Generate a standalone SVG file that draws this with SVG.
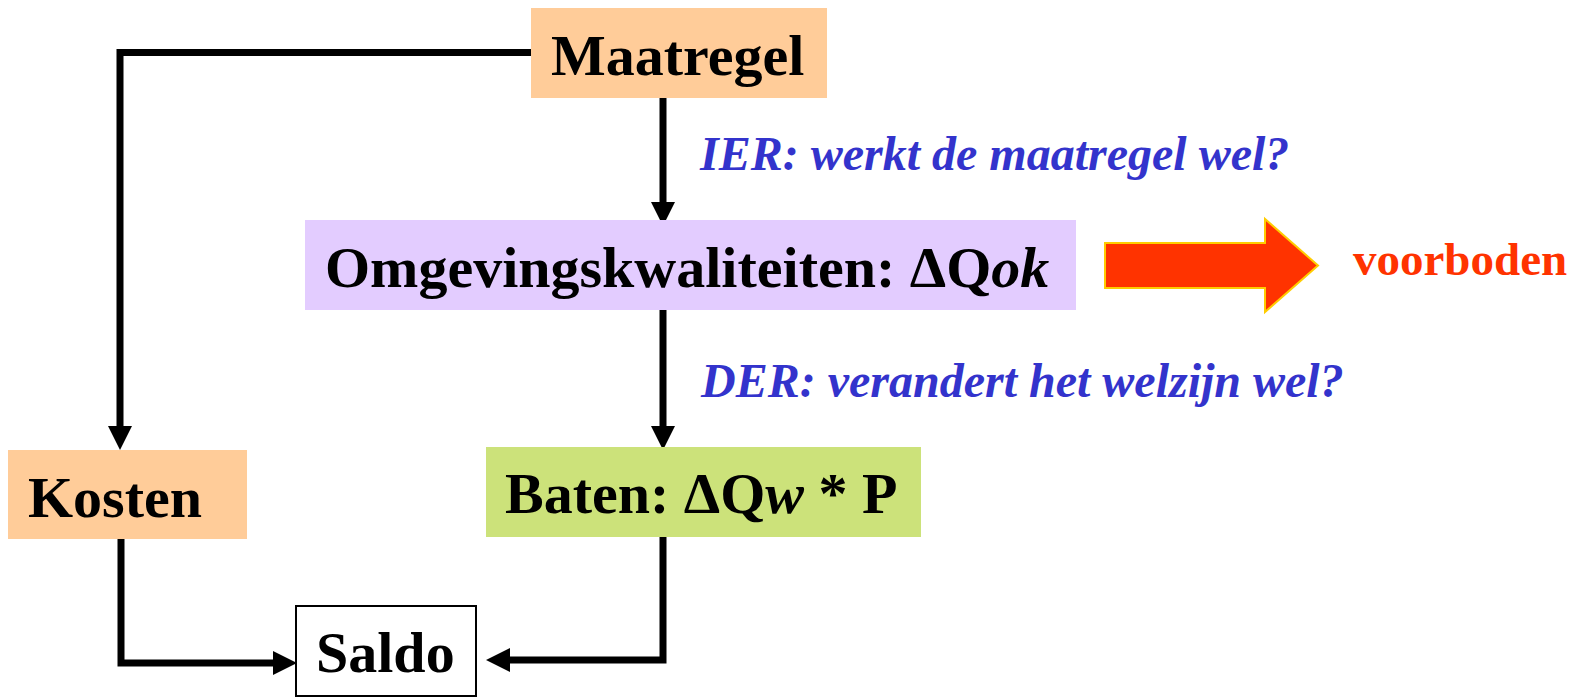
<svg xmlns="http://www.w3.org/2000/svg" width="1581" height="697" viewBox="0 0 1581 697">
<style>
.lbl{font-family:"Liberation Serif","Times New Roman",serif;font-weight:bold;font-size:58px;fill:#000}
.note{font-family:"Liberation Serif","Times New Roman",serif;font-weight:bold;font-style:italic;font-size:48px;fill:#3333CC}
.conn{fill:none;stroke:#000;stroke-width:7;stroke-linejoin:miter}
</style>
<defs>
<marker id="ah" markerUnits="userSpaceOnUse" markerWidth="24" markerHeight="24" refX="0" refY="12" orient="auto" overflow="visible">
<path d="M0,0 L24,12 L0,24 z" fill="#000"/>
</marker>
</defs>
<rect width="1581" height="697" fill="#fff"/>
<g id="connectors">
<path class="conn" d="M531,52.5 L120,52.5 L120,426" marker-end="url(#ah)"/>
<path class="conn" d="M663,98 L663,202" marker-end="url(#ah)"/>
<path class="conn" d="M663,310 L663,426" marker-end="url(#ah)"/>
<path class="conn" d="M121,531 L121,663 L273,663" marker-end="url(#ah)"/>
<path class="conn" d="M663,531 L663,660 L510,660" marker-end="url(#ah)"/>
</g>
<g id="maatregel">
<rect x="531" y="8" width="296" height="90" fill="#FFCC99"/>
<text class="lbl" x="551" y="75">Maatregel</text>
</g>
<g id="omgevingskwaliteiten">
<rect x="305" y="220" width="771" height="90" fill="#E3CCFF"/>
<text class="lbl" x="325" y="287">Omgevingskwaliteiten: ΔQ<tspan font-style="italic">ok</tspan></text>
</g>
<g id="kosten">
<rect x="8" y="450" width="239" height="89" fill="#FFCC99"/>
<text class="lbl" x="28" y="517">Kosten</text>
</g>
<g id="baten">
<rect x="486" y="447" width="435" height="90" fill="#CCE27A"/>
<text class="lbl" x="505" y="513">Baten: ΔQ<tspan font-style="italic">w</tspan> * P</text>
</g>
<g id="saldo">
<rect x="296" y="606" width="180" height="90" fill="#fff" stroke="#000" stroke-width="2"/>
<text class="lbl" x="316" y="672">Saldo</text>
</g>
<g id="ier-label">
<text class="note" x="700" y="170">IER: werkt de maatregel wel?</text>
</g>
<g id="der-label">
<text class="note" x="701" y="397">DER: verandert het welzijn wel?</text>
</g>
<g id="voorboden">
<path d="M1105,243 L1265,243 L1265,219 L1318,265.5 L1265,312 L1265,288 L1105,288 z" fill="#FF3300" stroke="#FFCC00" stroke-width="2"/>
<text x="1353" y="275" font-family="Liberation Serif,Times New Roman,serif" font-weight="bold" font-size="47" fill="#FF3300">voorboden</text>
</g>
</svg>
